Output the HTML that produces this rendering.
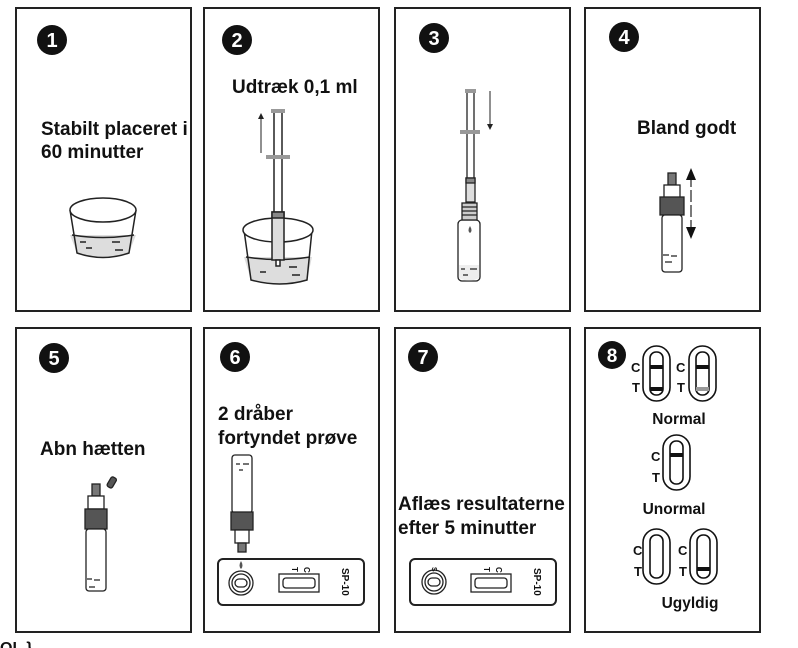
<!DOCTYPE html>
<html><head><meta charset="utf-8"><style>
html,body{margin:0;padding:0;background:#fff;width:798px;height:648px;overflow:hidden}
svg{display:block}
text{font-family:"Liberation Sans",Arial,sans-serif;font-weight:bold;fill:#111}
</style></head><body>
<svg width="798" height="648" viewBox="0 0 798 648" xmlns="http://www.w3.org/2000/svg">
<g fill="none" stroke="#222" stroke-width="2">
<rect x="16" y="8" width="175" height="303"/>
<rect x="204" y="8" width="175" height="303"/>
<rect x="395" y="8" width="175" height="303"/>
<rect x="585" y="8" width="175" height="303"/>
<rect x="16" y="328" width="175" height="304"/>
<rect x="204" y="328" width="175" height="304"/>
<rect x="395" y="328" width="175" height="304"/>
<rect x="585" y="328" width="175" height="304"/>
</g>
<g>
<circle cx="52" cy="40" r="15" fill="#111"/><text x="52" y="47" font-size="20" text-anchor="middle" style="fill:#fff">1</text>
<circle cx="237" cy="40" r="15" fill="#111"/><text x="237" y="47" font-size="20" text-anchor="middle" style="fill:#fff">2</text>
<circle cx="434" cy="38" r="15" fill="#111"/><text x="434" y="45" font-size="20" text-anchor="middle" style="fill:#fff">3</text>
<circle cx="624" cy="37" r="15" fill="#111"/><text x="624" y="44" font-size="20" text-anchor="middle" style="fill:#fff">4</text>
<circle cx="54" cy="358" r="15" fill="#111"/><text x="54" y="365" font-size="20" text-anchor="middle" style="fill:#fff">5</text>
<circle cx="235" cy="357" r="15" fill="#111"/><text x="235" y="364" font-size="20" text-anchor="middle" style="fill:#fff">6</text>
<circle cx="423" cy="357" r="15" fill="#111"/><text x="423" y="364" font-size="20" text-anchor="middle" style="fill:#fff">7</text>
<circle cx="612" cy="355" r="14" fill="#111"/><text x="612" y="362" font-size="19" text-anchor="middle" style="fill:#fff">8</text>
</g>
<text x="41" y="135" font-size="19">Stabilt placeret i</text>
<text x="41" y="158" font-size="19">60 minutter</text>
<text x="232" y="93" font-size="19">Udtræk 0,1 ml</text>
<text x="637" y="134" font-size="19">Bland godt</text>
<text x="40" y="455" font-size="19">Abn hætten</text>
<text x="218" y="420" font-size="19">2 dråber</text>
<text x="218" y="444" font-size="19">fortyndet prøve</text>
<text x="398" y="510" font-size="19">Aflæs resultaterne</text>
<text x="398" y="534" font-size="19">efter 5 minutter</text>
<text x="0" y="653" font-size="16">OL }</text>

<g stroke="#222" stroke-width="1.5">
<path d="M70 235 L77 253 Q103 262 129 253 L136 235 Z" fill="#ddd" stroke="none"/>
<path d="M70 210 L77 253 Q103 262 129 253 L136 210" fill="none"/>
<ellipse cx="103" cy="210" rx="33" ry="12" fill="#fff"/>
<path d="M72 235 Q103 240 134 235" fill="none"/>
<path d="M80 242h6M86 248h6M112 242h8M115 250h8" fill="none"/>
</g>
<g stroke="#222" stroke-width="1.5">
<path d="M244 257 L251 280 Q280 288 307 280 L312 257 Z" fill="#ddd" stroke="none"/>
<path d="M244 230 L251 280 Q280 288 307 280 L312 230" fill="none"/>
<ellipse cx="278" cy="230" rx="35" ry="12" fill="#fff"/>
<path d="M246 257 Q278 262 310 257" fill="none"/>
<path d="M260 272h6M289 267h8M292 275h8" fill="none"/>
<line x1="274" y1="112" x2="274" y2="212"/><line x1="282" y1="112" x2="282" y2="212"/>
<rect x="272" y="212" width="12" height="48" fill="#ddd"/>
<rect x="272" y="212" width="12" height="6" fill="#888"/>
<rect x="276" y="260" width="4" height="6" fill="#fff"/>
</g>
<rect x="271" y="109" width="14" height="4" fill="#999"/>
<rect x="266" y="155" width="24" height="4" fill="#999"/>
<line x1="261" y1="153" x2="261" y2="118" stroke="#222" stroke-width="1"/>
<path d="M258 119 L261 113 L264 119Z" fill="#222"/>

<g stroke="#222" stroke-width="1.3">
<line x1="467" y1="92" x2="467" y2="178"/><line x1="474" y1="92" x2="474" y2="178"/>
<rect x="466" y="178" width="9" height="24" fill="#ddd"/>
<rect x="466" y="178" width="9" height="5" fill="#888"/>
<rect x="458" y="220" width="22" height="61" rx="4" fill="#fff"/>
<path d="M459 265 H479 V278 Q469 283 459 278Z" fill="#eee" stroke="none"/>
<rect x="462" y="203" width="15" height="17" fill="#ccc"/>
<path d="M462 207h15M462 211h15M462 215h15" fill="none"/>
<path d="M461 269h4M470 269h7M463 275h5" fill="none"/>
</g>
<rect x="465" y="89" width="11" height="4" fill="#999"/>
<rect x="460" y="130" width="20" height="4" fill="#999"/>
<path d="M470 226 q-3 5 0 7 q3 -2 0 -7z" fill="#555"/>
<line x1="490" y1="91" x2="490" y2="125" stroke="#222" stroke-width="1"/>
<path d="M487 124 L490 130 L493 124Z" fill="#222"/>

<g stroke="#222" stroke-width="1.3">
<rect x="668" y="173" width="8" height="12" fill="#777"/>
<rect x="664" y="185" width="16" height="13" fill="#fff"/>
<rect x="660" y="197" width="24" height="18" fill="#555"/>
<rect x="662" y="215" width="20" height="57" rx="3" fill="#fff"/>
<path d="M663 255h6M671 256h6M665 262h7" fill="none"/>
</g>
<line x1="691" y1="175" x2="691" y2="232" stroke="#222" stroke-width="1.2" stroke-dasharray="12 3"/>
<path d="M686 180 L691 168 L696 180Z M686 227 L691 239 L696 227Z" fill="#111"/>

<g stroke="#222" stroke-width="1.3">
<rect x="92" y="484" width="8" height="12" fill="#777"/>
<rect x="88" y="496" width="16" height="13" fill="#fff"/>
<rect x="85" y="509" width="22" height="20" fill="#555"/>
<rect x="86" y="529" width="20" height="62" rx="3" fill="#fff"/>
<path d="M87 579h5M94 580h6M89 587h6" fill="none"/>
<rect x="109" y="477" width="6" height="11" rx="2" fill="#555" transform="rotate(30 112 482)"/>
</g>

<g stroke="#222" stroke-width="1.3">
<rect x="232" y="455" width="20" height="58" rx="3" fill="#fff"/>
<path d="M236 464h4M243 464h6M239 470h4" fill="none"/>
<rect x="231" y="512" width="22" height="18" fill="#555"/>
<rect x="235" y="530" width="14" height="13" fill="#fff"/>
<rect x="238" y="543" width="8" height="9" fill="#777"/>
<rect x="218" y="559" width="146" height="46" rx="5" fill="#fff" stroke-width="2"/>
<ellipse cx="241" cy="583" rx="12" ry="12" fill="#fff"/>
<ellipse cx="241" cy="583" rx="9" ry="9" fill="#fff"/>
<rect x="235" y="579" width="12" height="8" rx="4" fill="#fff"/>
<rect x="279" y="574" width="40" height="18" fill="#fff"/>
<rect x="283" y="578" width="32" height="10" rx="3" fill="#fff"/>
</g>
<path d="M241 561 q-3 5 0 8 q3 -3 0 -8z" fill="#555"/>
<text x="292" y="567" font-size="8" transform="rotate(90 292 567)">T</text>
<text x="304" y="567" font-size="8" transform="rotate(90 304 567)">C</text>
<text x="342" y="568" font-size="10" transform="rotate(90 342 568)">SP-10</text>

<g stroke="#222" stroke-width="1.3">
<rect x="410" y="559" width="146" height="46" rx="5" fill="#fff" stroke-width="2"/>
<ellipse cx="434" cy="582" rx="12" ry="12" fill="#fff"/>
<ellipse cx="434" cy="582" rx="9" ry="9" fill="#fff"/>
<rect x="428" y="578" width="12" height="8" rx="4" fill="#fff"/>
<rect x="471" y="574" width="40" height="18" fill="#fff"/>
<rect x="475" y="578" width="32" height="10" rx="3" fill="#fff"/>
</g>
<text x="432" y="567" font-size="7" transform="rotate(90 432 567)">S</text>
<text x="484" y="567" font-size="8" transform="rotate(90 484 567)">T</text>
<text x="496" y="567" font-size="8" transform="rotate(90 496 567)">C</text>
<text x="534" y="568" font-size="10" transform="rotate(90 534 568)">SP-10</text>

<g stroke="#111" stroke-width="1.6" fill="#fff">
<rect x="643" y="346" width="27" height="55" rx="13.5"/><rect x="650" y="352" width="13" height="43" rx="6"/>
<rect x="689" y="346" width="27" height="55" rx="13.5"/><rect x="696" y="352" width="13" height="43" rx="6"/>
<rect x="663" y="435" width="27" height="55" rx="13.5"/><rect x="670" y="441" width="13" height="43" rx="6"/>
<rect x="643" y="529" width="27" height="55" rx="13.5"/><rect x="650" y="535" width="13" height="43" rx="6"/>
<rect x="690" y="529" width="27" height="55" rx="13.5"/><rect x="697" y="535" width="13" height="43" rx="6"/>
</g>
<rect x="650" y="365" width="13" height="4" fill="#111"/>
<rect x="650" y="387" width="13" height="4" fill="#111"/>
<rect x="696" y="365" width="13" height="4" fill="#111"/>
<rect x="696" y="387" width="13" height="4" fill="#999"/>
<rect x="670" y="453" width="13" height="4" fill="#111"/>
<rect x="697" y="567" width="13" height="4" fill="#111"/>
<g font-size="13">
<text x="631" y="372">C</text><text x="632" y="392">T</text>
<text x="676" y="372">C</text><text x="677" y="392">T</text>
<text x="651" y="461">C</text><text x="652" y="482">T</text>
<text x="633" y="555">C</text><text x="634" y="576">T</text>
<text x="678" y="555">C</text><text x="679" y="576">T</text>
</g>
<text x="679" y="424" font-size="15.5" text-anchor="middle">Normal</text>
<text x="674" y="514" font-size="15.5" text-anchor="middle">Unormal</text>
<text x="690" y="608" font-size="15.5" text-anchor="middle">Ugyldig</text>
</svg>
</body></html>
